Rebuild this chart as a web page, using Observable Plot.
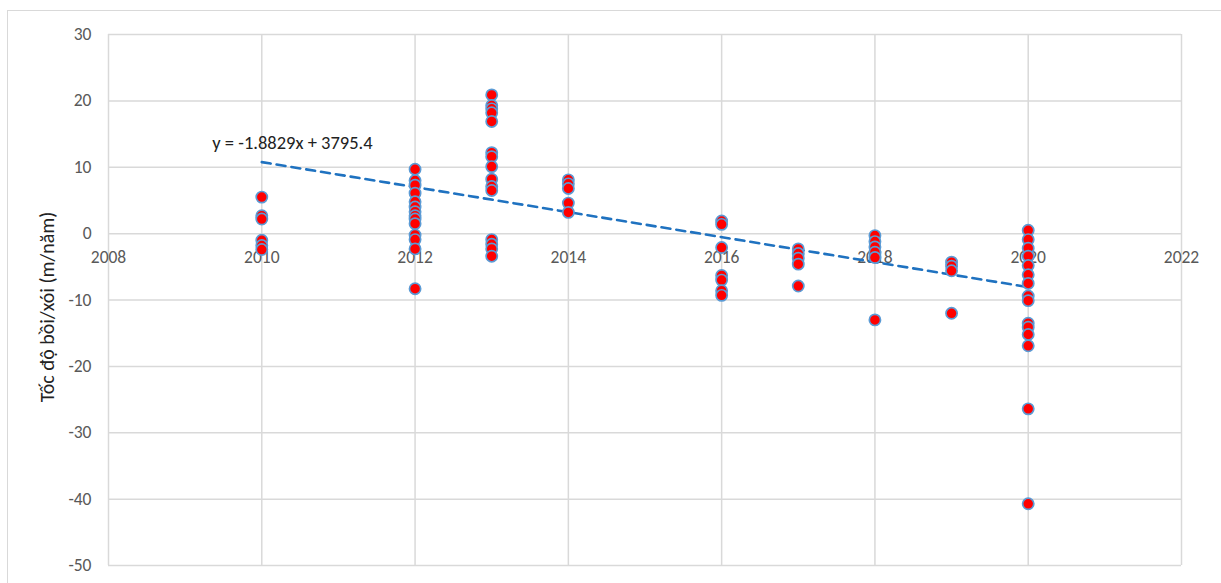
<!DOCTYPE html>
<html>
<head>
<meta charset="utf-8">
<script src="https://cdn.jsdelivr.net/npm/d3@7"></script>
<script src="https://cdn.jsdelivr.net/npm/@observablehq/plot@0.6"></script>
<style>
  html, body { margin: 0; padding: 0; background: #fff; }
  #wrap { position: relative; width: 1221px; height: 583px; overflow: hidden; }
  #border { position: absolute; left: 7px; top: 10px; width: 1230px; height: 600px; border: 1.5px solid #d9d9d9; box-sizing: border-box; }
  #chart { position: absolute; left: 0; top: 0; }
</style>
</head>
<body>
<div id="wrap"><div id="border"></div><div id="chart"></div></div>
<script>
const years = [2010, 2012, 2013, 2014, 2016, 2017, 2018, 2019, 2020];
const rates = [
  [5.5, 2.7, 2.2, -1.0, -1.8, -2.4],
  [9.7, 8.0, 7.3, 6.1, 4.8, 4.0, 3.3, 2.7, 2.2, 1.5, -0.2, -0.9, -2.3, -8.3],
  [20.9, 19.3, 18.8, 18.2, 16.9, 12.2, 11.6, 10.1, 8.2, 7.1, 6.5, -0.9, -1.6, -2.3, -3.4],
  [8.1, 7.5, 6.8, 4.6, 3.2],
  [1.9, 1.4, -2.1, -6.3, -7.0, -8.6, -9.3],
  [-2.3, -3.0, -3.7, -4.6, -7.9],
  [-0.3, -1.2, -2.0, -2.8, -3.6, -13.0],
  [-4.3, -4.9, -5.6, -12.0],
  [0.5, -0.9, -2.2, -3.4, -4.8, -6.2, -7.5, -9.4, -10.1, -13.5, -14.1, -15.2, -16.9, -26.4, -40.7]
];
const trendSlope = -1.8829;
const trendIntercept = 3795.4;
const trendRange = [2010, 2020];
const eqText = "y = -1.8829x + 3795.4";
const eqPos = {x: 2010.4, y: 13.6};
const xTicks = [2008, 2010, 2012, 2014, 2016, 2018, 2020, 2022];
const yTicks = [30, 20, 10, 0, -10, -20, -30, -40, -50];
const yTitle = "Tốc độ bồi/xói (m/năm)";

const points = years.flatMap((yr, i) => rates[i].map(v => ({year: yr, rate: v})));
const trend = trendRange.map(x => ({year: x, rate: trendSlope * x + trendIntercept}));
const font = "Carlito, Calibri, 'Liberation Sans', Arial, sans-serif";

const chart = Plot.plot({
  width: 1221,
  height: 583,
  marginLeft: 108,
  marginRight: 40,
  marginTop: 34,
  marginBottom: 18,
  style: {fontFamily: font, fontSize: "17px", background: "transparent"},
  x: {domain: [2008, 2022], ticks: xTicks, axis: null},
  y: {domain: [-50, 30], ticks: yTicks},
  marks: [
    Plot.gridX(xTicks, {stroke: "#d9d9d9", strokeOpacity: 1, strokeWidth: 1.5}),
    Plot.gridY(yTicks, {stroke: "#d9d9d9", strokeOpacity: 1, strokeWidth: 1.5}),
    Plot.axisY(yTicks, {tickSize: 0, tickPadding: 17, fill: "#595959", fontSize: 17.5, label: null, tickFormat: d => String(d)}),
    Plot.text(xTicks, {x: d => d, y: () => 0, text: d => String(d), dy: 24, fill: "#595959", fontSize: 17.5}),
    Plot.line(trend, {x: "year", y: "rate", stroke: "#1f72c0", strokeWidth: 2.6, strokeDasharray: "9,6"}),
    Plot.dot(points, {x: "year", y: "rate", r: 5.6, fill: "#ff0000", stroke: "#5b9bd5", strokeWidth: 1.7}),
    Plot.text([eqText], {x: () => eqPos.x, y: () => eqPos.y, text: d => d, fill: "#222", fontSize: 18.5}),
    Plot.text([yTitle], {frameAnchor: "left", textAnchor: "middle", rotate: -90, dx: -61, dy: 7, fill: "#222", fontSize: 20})
  ]
});
document.getElementById("chart").appendChild(chart);
</script>
</body>
</html>
